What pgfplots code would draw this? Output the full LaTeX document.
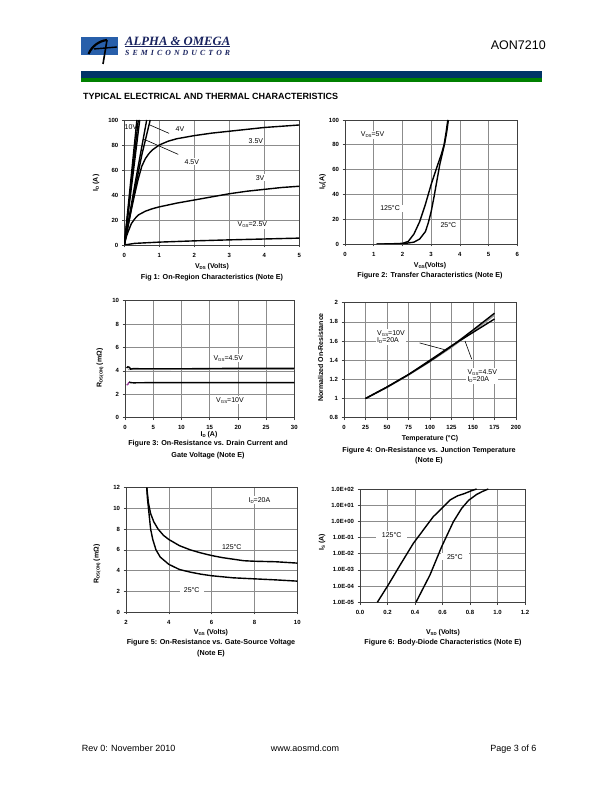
\documentclass[border=0pt]{standalone}
\usepackage{fontspec}
\setmainfont{Liberation Sans}
\newfontfamily\logoserif{Liberation Serif}
\usepackage{graphicx}
\usepackage{pgfplots}
\pgfplotsset{compat=1.18}
\definecolor{aoblue}{RGB}{0,51,102}
\definecolor{aogreen}{RGB}{0,128,0}
\definecolor{logoblue}{RGB}{40,95,170}
\definecolor{navy}{RGB}{25,35,95}
\newcommand{\sub}[1]{\raisebox{-0.3ex}{\scalebox{0.62}{#1}}}
\newcommand{\fs}[1]{\fontsize{#1}{#1}\selectfont}
\pgfplotsset{ds/.style={scale only axis, anchor=south west,
  axis line style={draw=black!75, line width=0.6pt},
  grid=major, major grid style={draw=black!45, line width=0.6pt},
  tick align=outside, major tick length=2.5pt, tick style={draw=black!75, line width=0.6pt},
  xtick pos=bottom, ytick pos=left,
  ticklabel style={font=\fs{6}\bfseries},
  xticklabel style={yshift=-2pt},
  /pgf/number format/assume math mode=true,
  cycle list={black,mark=none\\},
  every axis plot/.append style={line width=1.4pt}}}
\tikzset{lbl/.style={fill=white, inner sep=1.2pt, font=\fs{7}}}
\begin{document}
\begin{tikzpicture}[x=1pt,y=1pt]
\path[fill=white] (0,0) rectangle (612,792);
% ---------- header
\fill[logoblue] (81,737) rectangle (118.3,754.7);
\draw[line width=2.2pt, black] (88.5,738) .. controls (92,746) and (99,751) .. (107,752);
\draw[line width=1.6pt, black] (107,752) -- (103,728);
\draw[line width=1.4pt, black] (94,743) -- (117,745);
\node[anchor=base west, inner sep=0, text=navy] at (125,746.5) {\resizebox{105pt}{!}{\logoserif\bfseries\itshape ALPHA \& OMEGA}};
\draw[navy, line width=0.8pt] (125,745.2) -- (230,745.2);
\node[anchor=base west, inner sep=0, text=navy] at (125,736.5) {\logoserif\bfseries\itshape\fs{7.8}\makebox[105pt][s]{S\hfil E\hfil M\hfil I\hfil C\hfil O\hfil N\hfil D\hfil U\hfil C\hfil T\hfil O\hfil R}};
\node[anchor=base east, inner sep=0] at (546,742.7) {\fs{12.5}AON7210};
\fill[aoblue] (81,714.3) rectangle (541.7,721.3);
\fill[aogreen] (81,710) rectangle (541.7,714.3);
\node[anchor=base west, inner sep=0] at (83,692) {\fs{9}\bfseries TYPICAL ELECTRICAL AND THERMAL CHARACTERISTICS};
% ---------- footer
\node[anchor=base west, inner sep=0] at (81.7,40.5) {\fs{9}Rev 0: November 2010};
\node[anchor=base, inner sep=0] at (305,40.5) {\fs{9}www.aosmd.com};
\node[anchor=base east, inner sep=0] at (536.7,40.5) {\fs{9}Page 3 of 6};

% ================= Fig 1
\begin{axis}[ds, at={(124.3pt,547pt)}, width=175pt, height=125pt,
  xmin=0, xmax=5, ymin=0, ymax=100, xtick={0,1,...,5}, ytick={0,20,...,100}]
\addplot coordinates {(0,0)(0.36,100)};
\addplot coordinates {(0,0)(0.40,100)};
\addplot coordinates {(0,0)(0.44,100)};
\addplot coordinates {(0,0)(0.3,48)(0.64,100)};
\addplot coordinates {(0,0)(0.3,44)(0.5,72)(0.74,100)};
\addplot coordinates {(0,0)(0.1,14)(0.2,28)(0.3,41)(0.4,53)(0.5,63)(0.6,69)(0.7,73)(0.8,76)(1.0,80)(1.25,83)(1.5,85)(2,87.5)(2.5,89.5)(3,91)(3.5,92.5)(4,94)(4.5,95)(5,96)};
\addplot coordinates {(0,0)(0.05,6)(0.1,10)(0.2,17)(0.3,21)(0.4,24)(0.6,27)(0.8,29)(1,30.5)(1.5,33.5)(2,36)(2.5,38.5)(3,41)(3.5,43)(4,44.5)(4.5,46)(5,47)};
\addplot coordinates {(0,0)(0.3,1.3)(1,2.3)(2,3.3)(3,4.1)(4,4.8)(5,5.5)};
\draw[line width=0.6pt] (axis cs:0.73,96) -- (axis cs:1.28,89.3);
\draw[line width=0.6pt] (axis cs:0.57,84.5) -- (axis cs:1.54,72.5);
\node[font=\fs{7}, inner sep=0.5pt] at (axis cs:0.19,94.1) {10V};
\node[lbl] at (axis cs:1.59,92.5) {4V};
\node[lbl] at (axis cs:1.93,66.6) {4.5V};
\node[lbl] at (axis cs:3.76,83.5) {3.5V};
\node[lbl] at (axis cs:3.88,53.9) {3V};
\node[lbl] at (axis cs:3.66,16) {V\sub{GS}=2.5V};
\end{axis}
\node[rotate=90, font=\fs{7}\bfseries] at (96,609) {I\sub{D} (A)};
\node[font=\fs{7}\bfseries] at (212,525) {V\sub{DS} (Volts)};
\node[font=\fs{7.2}\bfseries] at (212,514) {Fig 1: On-Region Characteristics (Note E)};

% ================= Fig 2
\begin{axis}[ds, at={(345pt,548pt)}, width=172.3pt, height=124pt,
  xmin=0, xmax=6, ymin=0, ymax=100, xtick={0,1,...,6}, ytick={0,20,...,100}]
\addplot coordinates {(1.1,0)(1.5,0.05)(2.0,0.5)(2.2,2)(2.4,8)(2.6,18)(2.8,32)(3.0,48)(3.2,62)(3.35,72)(3.45,80)(3.52,90)(3.58,100)};
\addplot coordinates {(1.1,0)(2.0,0.1)(2.4,1.5)(2.6,4)(2.8,10)(2.9,17)(3.0,26)(3.1,38)(3.2,51)(3.3,64)(3.38,72)(3.47,81)(3.54,90)(3.6,100)};
\node[lbl] at (axis cs:0.96,87.9) {V\sub{DS}=5V};
\node[lbl, inner xsep=4pt] at (axis cs:1.57,28.8) {125°C};
\node[lbl, inner xsep=4pt] at (axis cs:3.6,15.3) {25°C};
\end{axis}
\node[rotate=90, font=\fs{7}\bfseries] at (322.5,610) {I\sub{D}(A)};
\node[font=\fs{7}\bfseries] at (430,526) {V\sub{GS}(Volts)};
\node[font=\fs{7.2}\bfseries] at (430,516) {Figure 2: Transfer Characteristics (Note E)};

% ================= Fig 3
\begin{axis}[ds, at={(125pt,374.3pt)}, width=169.3pt, height=117pt,
  xmin=0, xmax=30, ymin=0, ymax=10, xtick={0,5,...,30}, ytick={0,2,...,10}]
\addplot[black!35] coordinates {(0.5,4.13)(5,4.13)(15,4.15)(30,4.15)};
\addplot coordinates {(0.3,4.25)(0.5,4.35)(0.8,4.3)(1.0,4.15)(1.5,4.2)(3,4.18)(10,4.18)(20,4.22)(30,4.22)};
\addplot coordinates {(0.7,3.05)(1,3.0)(1.5,2.98)(5,3.0)(15,3.0)(30,3.0)};
\addplot[color={rgb,255:red,150;green,60;blue,150}] coordinates {(0.3,2.8)(0.5,2.85)(0.7,3.02)};
\node[lbl] at (axis cs:18.3,5.08) {V\sub{GS}=4.5V};
\node[lbl] at (axis cs:18.6,1.5) {V\sub{GS}=10V};
\end{axis}
\node[rotate=90, font=\fs{7}\bfseries] at (100,424) {R\sub{DS(ON)} (mΩ)};
\node[font=\fs{7}\bfseries] at (209,357) {I\sub{D} (A)};
\node[font=\fs{7.2}\bfseries] at (208,348) {Figure 3: On-Resistance vs. Drain Current and};
\node[font=\fs{7.2}\bfseries] at (208,336) {Gate Voltage (Note E)};

% ================= Fig 4
\begin{axis}[ds, at={(344pt,374.3pt)}, width=172pt, height=115pt,
  xmin=0, xmax=200, ymin=0.8, ymax=2, xtick={0,25,...,200}, ytick={0.8,1,...,2}]
\addplot[black!40] coordinates {(25,1)(50,1.115)(75,1.245)(100,1.385)(125,1.535)(150,1.70)(175,1.87)};
\addplot coordinates {(25,1)(50,1.12)(75,1.25)(100,1.39)(125,1.545)(150,1.715)(175,1.89)};
\addplot coordinates {(25,1)(50,1.12)(75,1.25)(100,1.40)(125,1.55)(150,1.69)(175,1.83)};
\draw[line width=0.6pt] (axis cs:88,1.58) -- (axis cs:117,1.51);
\draw[line width=0.6pt] (axis cs:148.5,1.41) -- (axis cs:140.7,1.6);
\node[lbl, align=left, anchor=west] at (axis cs:37,1.64) {V\sub{GS}=10V\\I\sub{D}=20A};
\node[lbl, align=left, anchor=west] at (axis cs:142,1.235) {V\sub{GS}=4.5V\\I\sub{D}=20A};
\end{axis}
\node[rotate=90, font=\fs{7}\bfseries] at (320.7,434.5) {Normalized On-Resistance};
\node[font=\fs{7}\bfseries] at (430,353) {Temperature (°C)};
\node[font=\fs{7.2}\bfseries] at (429,341) {Figure 4: On-Resistance vs. Junction Temperature};
\node[font=\fs{7.2}\bfseries] at (429,331) {(Note E)};

% ================= Fig 5
\begin{axis}[ds, at={(126pt,180pt)}, width=171.3pt, height=124.3pt,
  xmin=2, xmax=10, ymin=0, ymax=12, xtick={2,4,...,10}, ytick={0,2,...,12}]
\addplot coordinates {(2.97,12)(3.05,10.5)(3.15,9.5)(3.3,8.7)(3.5,8)(3.75,7.4)(4,7)(4.5,6.4)(5,6)(5.5,5.7)(6,5.45)(6.5,5.25)(7,5.1)(7.5,4.95)(8,4.9)(9,4.85)(10,4.72)};
\addplot coordinates {(2.97,12)(3.0,11)(3.05,10)(3.1,9)(3.15,8)(3.25,7)(3.4,6)(3.6,5.3)(4,4.6)(4.5,4.1)(5,3.85)(5.5,3.65)(6,3.5)(7,3.3)(8,3.2)(9,3.1)(10,2.98)};
\node[lbl] at (axis cs:8.23,10.8) {I\sub{D}=20A};
\node[lbl, inner xsep=4pt] at (axis cs:6.94,6.3) {125°C};
\node[lbl, inner xsep=4pt] at (axis cs:5.07,2.1) {25°C};
\end{axis}
\node[rotate=90, font=\fs{7}\bfseries] at (97,228) {R\sub{DS(ON)} (mΩ)};
\node[font=\fs{7}\bfseries] at (211,159) {V\sub{GS} (Volts)};
\node[font=\fs{7.2}\bfseries] at (211,149) {Figure 5: On-Resistance vs. Gate-Source Voltage};
\node[font=\fs{7.2}\bfseries] at (211,138) {(Note E)};

% ================= Fig 6
\begin{axis}[ds, at={(360pt,189.7pt)}, width=165pt, height=113.3pt, ymode=log,
  xmin=0, xmax=1.2, ymin=1e-5, ymax=1e2, xtick={0,0.2,...,1.2},
  ytick={1e-5,1e-4,1e-3,1e-2,1e-1,1,10,100}, yminorticks=false,
  yticklabels={1.0E-05,1.0E-04,1.0E-03,1.0E-02,1.0E-01,1.0E+00,1.0E+01,1.0E+02},
  xticklabel style={/pgf/number format/.cd, fixed, fixed zerofill, precision=1}]
\addplot coordinates {(0.126,1e-5)(0.206,1.2e-4)(0.29,1.9e-3)(0.388,0.044)(0.46,0.29)(0.533,1.95)(0.6,7)(0.655,21)(0.71,38)(0.764,54)(0.81,78)(0.848,100)};
\addplot coordinates {(0.407,1e-5)(0.509,4.9e-4)(0.594,0.0275)(0.679,0.95)(0.739,6.3)(0.79,20)(0.848,46)(0.89,70)(0.933,100)};
\node[lbl, inner xsep=6pt] at (axis cs:0.23,0.145) {125°C};
\node[lbl, inner xsep=6pt] at (axis cs:0.69,0.0066) {25°C};
\end{axis}
\node[rotate=90, font=\fs{7}\bfseries] at (322,249.5) {I\sub{S} (A)};
\node[font=\fs{7}\bfseries] at (443,159) {V\sub{SD} (Volts)};
\node[font=\fs{7.2}\bfseries] at (443,149) {Figure 6: Body-Diode Characteristics (Note E)};
\end{tikzpicture}
\end{document}
